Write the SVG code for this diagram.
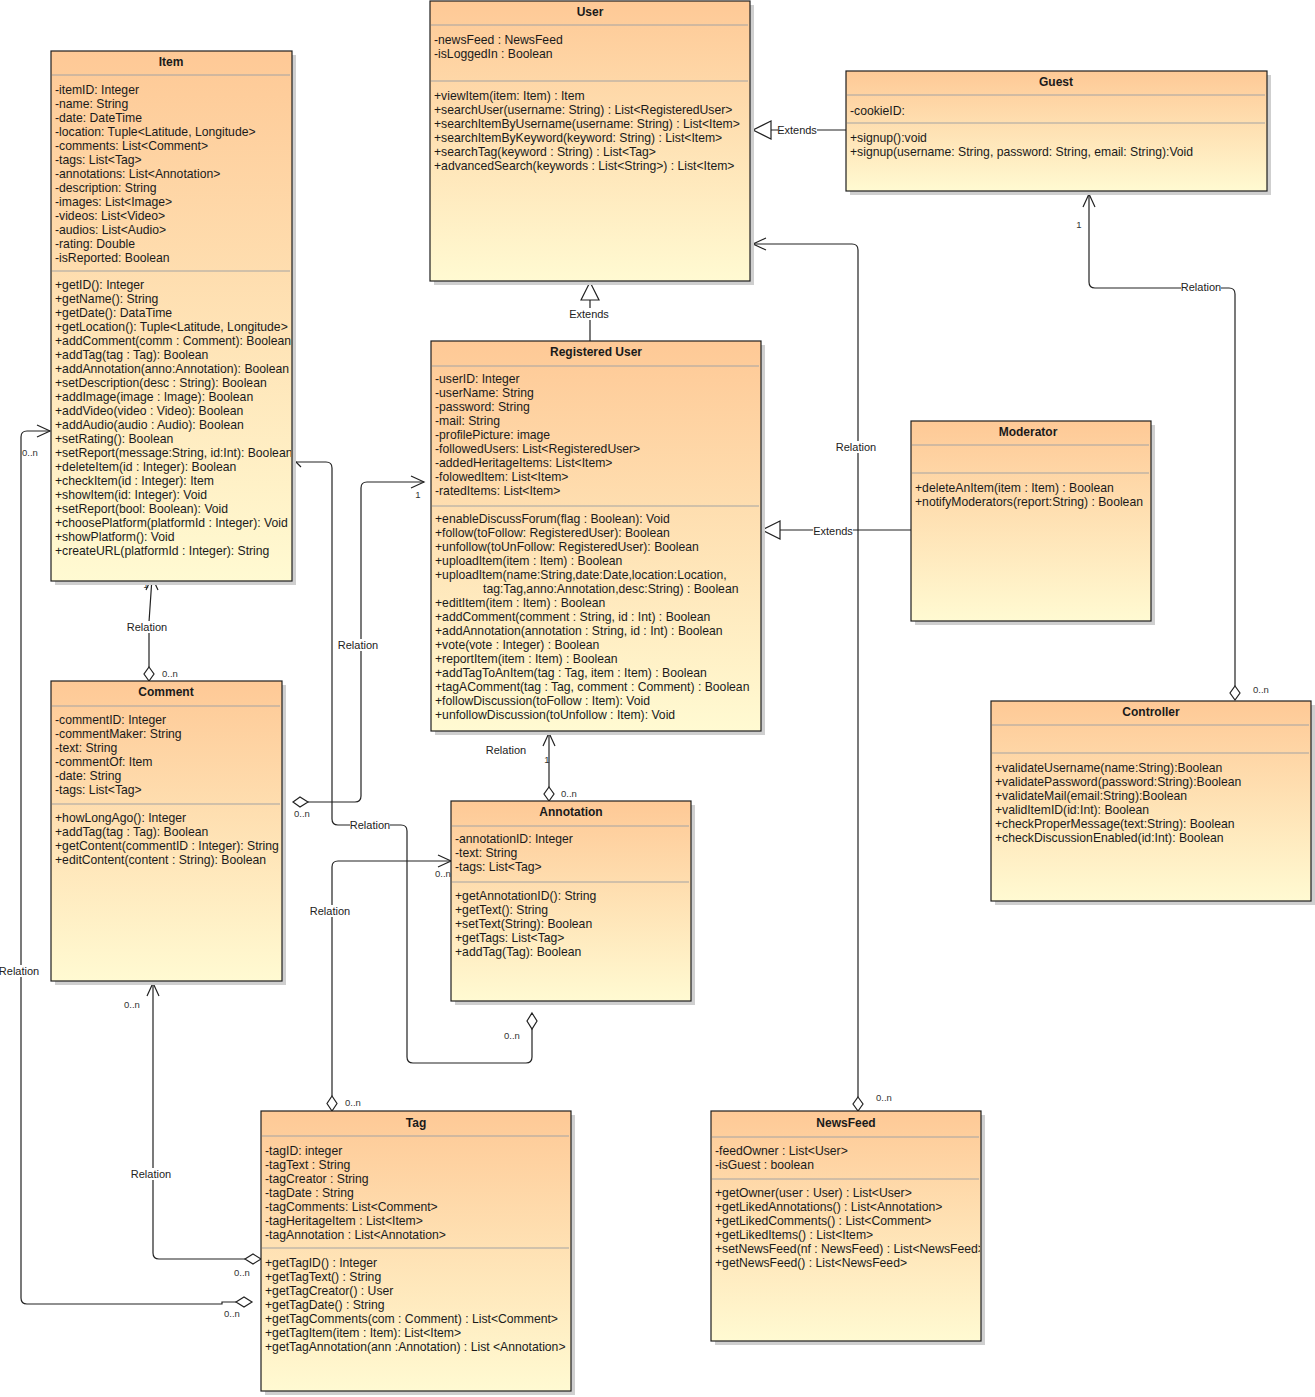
<svg xmlns="http://www.w3.org/2000/svg" width="1315" height="1397" viewBox="0 0 1315 1397">
<defs>
<linearGradient id="g" x1="0" y1="0" x2="0" y2="1">
<stop offset="0" stop-color="#fec996"/>
<stop offset="1" stop-color="#fffad2"/>
</linearGradient>
<clipPath id="cItem"><rect x="51" y="51" width="240" height="530"/></clipPath>
<clipPath id="cNews"><rect x="711" y="1111" width="269" height="230"/></clipPath>
</defs>
<style>
.sh{fill:#cfcfcf}
.bx{fill:url(#g);stroke:#1e1e1e;stroke-width:1.2}
.sp{stroke:#a3a3a3;stroke-width:1.2}
.t{font-family:"Liberation Sans",Arial,sans-serif;font-size:12.2px;fill:#1a1a1a}
.h{font-family:"Liberation Sans",Arial,sans-serif;font-size:12px;font-weight:bold;fill:#1a1a1a;text-anchor:middle}
.ln{fill:none;stroke:#222;stroke-width:1.2}
.hd{fill:#fff;stroke:#222;stroke-width:1.2}
.lb{font-family:"Liberation Sans",Arial,sans-serif;font-size:11px;fill:#222;text-anchor:middle}
.m{font-family:"Liberation Sans",Arial,sans-serif;font-size:9.5px;fill:#333;text-anchor:middle}
.wb{fill:#fff}
</style>
<rect width="1315" height="1397" fill="#fff"/>

<g id="connectors">
<!-- Guest extends User -->
<path class="ln" d="M846,130 H771"/>
<polygon class="hd" points="771,121 753,130 771,139"/>
<rect class="wb" x="778" y="124" width="39" height="12"/>
<text class="lb" x="797" y="134">Extends</text>
<!-- Registered User extends User -->
<path class="ln" d="M590,341 V300"/>
<polygon class="hd" points="581,300 590,282 599,300"/>
<rect class="wb" x="569" y="308" width="40" height="12"/>
<text class="lb" x="589" y="318">Extends</text>
<!-- Moderator extends Registered User -->
<path class="ln" d="M911,530 H780"/>
<polygon class="hd" points="780,521 762,530 780,539"/>
<rect class="wb" x="813" y="525" width="40" height="12"/>
<text class="lb" x="833" y="535">Extends</text>
<!-- Controller - Guest -->
<path class="ln" d="M1235,686 V294 Q1235,288 1229,288 H1095 Q1089,288 1089,282 V194"/>
<polyline class="ln" points="1083,207 1089,194 1095,207"/>
<polygon class="hd" points="1235,686 1240,693 1235,700 1230,693"/>
<rect class="wb" x="1181" y="282" width="40" height="12"/>
<text class="lb" x="1201" y="291">Relation</text>
<text class="m" x="1079" y="228">1</text>
<text class="m" x="1261" y="693">0..n</text>
<!-- NewsFeed - User -->
<path class="ln" d="M858,1097 V250 Q858,244 852,244 H753"/>
<polyline class="ln" points="766,238 753,244 766,250"/>
<polygon class="hd" points="858,1097 863,1104 858,1111 853,1104"/>
<rect class="wb" x="836" y="441" width="40" height="12"/>
<text class="lb" x="856" y="451">Relation</text>
<text class="m" x="884" y="1101">0..n</text>
<rect class="wb" x="728" y="270" width="20" height="11"/>
<text class="m" x="738" y="279">0..n</text>
<!-- Annotation - Registered User -->
<path class="ln" d="M549,787 V733"/>
<polyline class="ln" points="543,746 549,733 555,746"/>
<polygon class="hd" points="549,787 554,794 549,801 544,794"/>
<text class="lb" x="506" y="754">Relation</text>
<text class="m" x="547" y="763">1</text>
<text class="m" x="569" y="797">0..n</text>
<!-- Comment - Item -->
<path class="ln" d="M149,667 V622 L152,578"/>
<polyline class="ln" points="146,590 152,577 158,590"/>
<polygon class="hd" points="149,667 154,674 149,681 144,674"/>
<rect class="wb" x="127" y="621" width="40" height="12"/>
<text class="lb" x="147" y="631">Relation</text>
<text class="m" x="146" y="588">1</text>
<text class="m" x="170" y="677">0..n</text>
<!-- Comment - Registered User -->
<path class="ln" d="M308,802 H355 Q361,802 361,796 V488 Q361,482 367,482 H424"/>
<polyline class="ln" points="411,476 424,482 411,488"/>
<polygon class="hd" points="293,802 300,797 308,802 300,807"/>
<rect class="wb" x="338" y="639" width="40" height="12"/>
<text class="lb" x="358" y="649">Relation</text>
<text class="m" x="418" y="498">1</text>
<text class="m" x="302" y="817">0..n</text>
<!-- Item - (aggregation below Annotation) -->
<path class="ln" d="M295,462 H326 Q332,462 332,468 V819 Q332,825 338,825 H401 Q407,825 407,831 V1057 Q407,1063 413,1063 H526 Q532,1063 532,1057 V1029"/>
<polyline class="ln" points="289,471 292,458 301,467"/>
<polygon class="hd" points="532,1013 537,1021 532,1029 527,1021"/>
<rect class="wb" x="350" y="819" width="40" height="12"/>
<text class="lb" x="370" y="829">Relation</text>
<rect class="wb" x="283" y="463" width="7" height="11"/>
<text class="m" x="287" y="472">1</text>
<text class="m" x="512" y="1039">0..n</text>
<!-- Tag - Annotation -->
<path class="ln" d="M332,1096 V867 Q332,861 338,861 H451"/>
<polyline class="ln" points="438,855 451,861 438,867"/>
<polygon class="hd" points="332,1096 337,1103.5 332,1111 327,1103.5"/>
<rect class="wb" x="310" y="905" width="40" height="12"/>
<text class="lb" x="330" y="915">Relation</text>
<text class="m" x="443" y="877">0..n</text>
<text class="m" x="353" y="1106">0..n</text>
<!-- Tag - Comment -->
<path class="ln" d="M245,1259 H159 Q153,1259 153,1253 V983"/>
<polyline class="ln" points="147,996 153,983 159,996"/>
<polygon class="hd" points="245,1259 253,1254 261,1259 253,1264"/>
<rect class="wb" x="131" y="1168" width="40" height="12"/>
<text class="lb" x="151" y="1178">Relation</text>
<text class="m" x="132" y="1008">0..n</text>
<text class="m" x="242" y="1276">0..n</text>
<!-- Tag - Item -->
<path class="ln" d="M236,1302 H222 V1304 H27 Q21,1304 21,1298 V437 Q21,431 27,431 H50"/>
<polyline class="ln" points="37,425 50,431 37,437"/>
<polygon class="hd" points="236,1302 244,1297 252,1302 244,1307"/>
<rect class="wb" x="0" y="965" width="40" height="12"/>
<text class="lb" x="19" y="975">Relation</text>
<text class="m" x="30" y="456">0..n</text>
<text class="m" x="232" y="1317">0..n</text>
</g>

<g id="item">
<rect class="sh" x="55" y="55" width="241" height="530"/>
<rect class="bx" x="51" y="51" width="241" height="530"/>
<text class="h" x="171" y="66">Item</text>
<line class="sp" x1="52" y1="75" x2="290" y2="75"/>
<line class="sp" x1="52" y1="271" x2="290" y2="271"/>
<g clip-path="url(#cItem)">
<text class="t" x="55" y="94">-itemID: Integer<tspan x="55" dy="14">-name: String</tspan><tspan x="55" dy="14">-date: DateTime</tspan><tspan x="55" dy="14">-location: Tuple&lt;Latitude, Longitude&gt;</tspan><tspan x="55" dy="14">-comments: List&lt;Comment&gt;</tspan><tspan x="55" dy="14">-tags: List&lt;Tag&gt;</tspan><tspan x="55" dy="14">-annotations: List&lt;Annotation&gt;</tspan><tspan x="55" dy="14">-description: String</tspan><tspan x="55" dy="14">-images: List&lt;Image&gt;</tspan><tspan x="55" dy="14">-videos: List&lt;Video&gt;</tspan><tspan x="55" dy="14">-audios: List&lt;Audio&gt;</tspan><tspan x="55" dy="14">-rating: Double</tspan><tspan x="55" dy="14">-isReported: Boolean</tspan></text>
<text class="t" x="55" y="289">+getID(): Integer<tspan x="55" dy="14">+getName(): String</tspan><tspan x="55" dy="14">+getDate(): DataTime</tspan><tspan x="55" dy="14">+getLocation(): Tuple&lt;Latitude, Longitude&gt;</tspan><tspan x="55" dy="14">+addComment(comm : Comment): Boolean</tspan><tspan x="55" dy="14">+addTag(tag : Tag): Boolean</tspan><tspan x="55" dy="14">+addAnnotation(anno:Annotation): Boolean</tspan><tspan x="55" dy="14">+setDescription(desc : String): Boolean</tspan><tspan x="55" dy="14">+addImage(image : Image): Boolean</tspan><tspan x="55" dy="14">+addVideo(video : Video): Boolean</tspan><tspan x="55" dy="14">+addAudio(audio : Audio): Boolean</tspan><tspan x="55" dy="14">+setRating(): Boolean</tspan><tspan x="55" dy="14">+setReport(message:String, id:Int): Boolean</tspan><tspan x="55" dy="14">+deleteItem(id : Integer): Boolean</tspan><tspan x="55" dy="14">+checkItem(id : Integer): Item</tspan><tspan x="55" dy="14">+showItem(id: Integer): Void</tspan><tspan x="55" dy="14">+setReport(bool: Boolean): Void</tspan><tspan x="55" dy="14">+choosePlatform(platformId : Integer): Void</tspan><tspan x="55" dy="14">+showPlatform(): Void</tspan><tspan x="55" dy="14">+createURL(platformId : Integer): String</tspan></text>
</g>
</g>

<g id="user">
<rect class="sh" x="434" y="5" width="320" height="280"/>
<rect class="bx" x="430" y="1" width="320" height="280"/>
<text class="h" x="590" y="16">User</text>
<line class="sp" x1="431" y1="25" x2="748" y2="25"/>
<line class="sp" x1="431" y1="81" x2="748" y2="81"/>
<text class="t" x="434" y="44">-newsFeed : NewsFeed<tspan x="434" dy="14">-isLoggedIn : Boolean</tspan></text>
<text class="t" x="434" y="100">+viewItem(item: Item) : Item<tspan x="434" dy="14">+searchUser(username: String) : List&lt;RegisteredUser&gt;</tspan><tspan x="434" dy="14">+searchItemByUsername(username: String) : List&lt;Item&gt;</tspan><tspan x="434" dy="14">+searchItemByKeyword(keyword: String) : List&lt;Item&gt;</tspan><tspan x="434" dy="14">+searchTag(keyword : String) : List&lt;Tag&gt;</tspan><tspan x="434" dy="14">+advancedSearch(keywords : List&lt;String&gt;) : List&lt;Item&gt;</tspan></text>
</g>

<g id="guest">
<rect class="sh" x="850" y="75" width="421" height="120"/>
<rect class="bx" x="846" y="71" width="421" height="120"/>
<text class="h" x="1056" y="86">Guest</text>
<line class="sp" x1="847" y1="95" x2="1265" y2="95"/>
<line class="sp" x1="847" y1="123" x2="1265" y2="123"/>
<text class="t" x="850" y="115">-cookieID:</text>
<text class="t" x="850" y="142">+signup():void<tspan x="850" dy="14">+signup(username: String, password: String, email: String):Void</tspan></text>
</g>

<g id="registered-user">
<rect class="sh" x="435" y="345" width="330" height="390"/>
<rect class="bx" x="431" y="341" width="330" height="390"/>
<text class="h" x="596" y="356">Registered User</text>
<line class="sp" x1="432" y1="366" x2="759" y2="366"/>
<line class="sp" x1="432" y1="506" x2="759" y2="506"/>
<text class="t" x="435" y="383">-userID: Integer<tspan x="435" dy="14">-userName: String</tspan><tspan x="435" dy="14">-password: String</tspan><tspan x="435" dy="14">-mail: String</tspan><tspan x="435" dy="14">-profilePicture: image</tspan><tspan x="435" dy="14">-followedUsers: List&lt;RegisteredUser&gt;</tspan><tspan x="435" dy="14">-addedHeritageItems: List&lt;Item&gt;</tspan><tspan x="435" dy="14">-folowedItem: List&lt;Item&gt;</tspan><tspan x="435" dy="14">-ratedItems: List&lt;Item&gt;</tspan></text>
<text class="t" x="435" y="523">+enableDiscussForum(flag : Boolean): Void<tspan x="435" dy="14">+follow(toFollow: RegisteredUser): Boolean</tspan><tspan x="435" dy="14">+unfollow(toUnFollow: RegisteredUser): Boolean</tspan><tspan x="435" dy="14">+uploadItem(item : Item) : Boolean</tspan><tspan x="435" dy="14">+uploadItem(name:String,date:Date,location:Location,</tspan><tspan x="483" dy="14">tag:Tag,anno:Annotation,desc:String) : Boolean</tspan><tspan x="435" dy="14">+editItem(item : Item) : Boolean</tspan><tspan x="435" dy="14">+addComment(comment : String, id : Int) : Boolean</tspan><tspan x="435" dy="14">+addAnnotation(annotation : String, id : Int) : Boolean</tspan><tspan x="435" dy="14">+vote(vote : Integer) : Boolean</tspan><tspan x="435" dy="14">+reportItem(item : Item) : Boolean</tspan><tspan x="435" dy="14">+addTagToAnItem(tag : Tag, item : Item) : Boolean</tspan><tspan x="435" dy="14">+tagAComment(tag : Tag, comment : Comment) : Boolean</tspan><tspan x="435" dy="14">+followDiscussion(toFollow : Item): Void</tspan><tspan x="435" dy="14">+unfollowDiscussion(toUnfollow : Item): Void</tspan></text>
</g>

<g id="moderator">
<rect class="sh" x="915" y="425" width="240" height="200"/>
<rect class="bx" x="911" y="421" width="240" height="200"/>
<text class="h" x="1028" y="436">Moderator</text>
<line class="sp" x1="912" y1="445" x2="1149" y2="445"/>
<line class="sp" x1="912" y1="473" x2="1149" y2="473"/>
<text class="t" x="915" y="492">+deleteAnItem(item : Item) : Boolean<tspan x="915" dy="14">+notifyModerators(report:String) : Boolean</tspan></text>
</g>

<g id="controller">
<rect class="sh" x="995" y="705" width="320" height="200"/>
<rect class="bx" x="991" y="701" width="320" height="200"/>
<text class="h" x="1151" y="716">Controller</text>
<line class="sp" x1="992" y1="725" x2="1309" y2="725"/>
<line class="sp" x1="992" y1="753" x2="1309" y2="753"/>
<text class="t" x="995" y="772">+validateUsername(name:String):Boolean<tspan x="995" dy="14">+validatePassword(password:String):Boolean</tspan><tspan x="995" dy="14">+validateMail(email:String):Boolean</tspan><tspan x="995" dy="14">+validItemID(id:Int): Boolean</tspan><tspan x="995" dy="14">+checkProperMessage(text:String): Boolean</tspan><tspan x="995" dy="14">+checkDiscussionEnabled(id:Int): Boolean</tspan></text>
</g>

<g id="comment">
<rect class="sh" x="55" y="685" width="231" height="300"/>
<rect class="bx" x="51" y="681" width="231" height="300"/>
<text class="h" x="166" y="696">Comment</text>
<line class="sp" x1="52" y1="706" x2="280" y2="706"/>
<line class="sp" x1="52" y1="804" x2="280" y2="804"/>
<text class="t" x="55" y="724">-commentID: Integer<tspan x="55" dy="14">-commentMaker: String</tspan><tspan x="55" dy="14">-text: String</tspan><tspan x="55" dy="14">-commentOf: Item</tspan><tspan x="55" dy="14">-date: String</tspan><tspan x="55" dy="14">-tags: List&lt;Tag&gt;</tspan></text>
<text class="t" x="55" y="822">+howLongAgo(): Integer<tspan x="55" dy="14">+addTag(tag : Tag): Boolean</tspan><tspan x="55" dy="14">+getContent(commentID : Integer): String</tspan><tspan x="55" dy="14">+editContent(content : String): Boolean</tspan></text>
</g>

<g id="annotation">
<rect class="sh" x="455" y="805" width="240" height="200"/>
<rect class="bx" x="451" y="801" width="240" height="200"/>
<text class="h" x="571" y="816">Annotation</text>
<line class="sp" x1="452" y1="826" x2="689" y2="826"/>
<line class="sp" x1="452" y1="882" x2="689" y2="882"/>
<text class="t" x="455" y="843">-annotationID: Integer<tspan x="455" dy="14">-text: String</tspan><tspan x="455" dy="14">-tags: List&lt;Tag&gt;</tspan></text>
<text class="t" x="455" y="900">+getAnnotationID(): String<tspan x="455" dy="14">+getText(): String</tspan><tspan x="455" dy="14">+setText(String): Boolean</tspan><tspan x="455" dy="14">+getTags: List&lt;Tag&gt;</tspan><tspan x="455" dy="14">+addTag(Tag): Boolean</tspan></text>
</g>

<g id="tag">
<rect class="sh" x="265" y="1115" width="310" height="280"/>
<rect class="bx" x="261" y="1111" width="310" height="280"/>
<text class="h" x="416" y="1127">Tag</text>
<line class="sp" x1="262" y1="1136" x2="569" y2="1136"/>
<line class="sp" x1="262" y1="1248" x2="569" y2="1248"/>
<text class="t" x="265" y="1155">-tagID: integer<tspan x="265" dy="14">-tagText : String</tspan><tspan x="265" dy="14">-tagCreator : String</tspan><tspan x="265" dy="14">-tagDate : String</tspan><tspan x="265" dy="14">-tagComments: List&lt;Comment&gt;</tspan><tspan x="265" dy="14">-tagHeritageItem : List&lt;Item&gt;</tspan><tspan x="265" dy="14">-tagAnnotation : List&lt;Annotation&gt;</tspan></text>
<text class="t" x="265" y="1267">+getTagID() : Integer<tspan x="265" dy="14">+getTagText() : String</tspan><tspan x="265" dy="14">+getTagCreator() : User</tspan><tspan x="265" dy="14">+getTagDate() : String</tspan><tspan x="265" dy="14">+getTagComments(com : Comment) : List&lt;Comment&gt;</tspan><tspan x="265" dy="14">+getTagItem(item : Item): List&lt;Item&gt;</tspan><tspan x="265" dy="14">+getTagAnnotation(ann :Annotation) : List &lt;Annotation&gt;</tspan></text>
</g>

<g id="newsfeed">
<rect class="sh" x="715" y="1115" width="270" height="230"/>
<rect class="bx" x="711" y="1111" width="270" height="230"/>
<text class="h" x="846" y="1127">NewsFeed</text>
<line class="sp" x1="712" y1="1137" x2="979" y2="1137"/>
<line class="sp" x1="712" y1="1179" x2="979" y2="1179"/>
<g clip-path="url(#cNews)">
<text class="t" x="715" y="1155">-feedOwner : List&lt;User&gt;<tspan x="715" dy="14">-isGuest : boolean</tspan></text>
<text class="t" x="715" y="1197">+getOwner(user : User) : List&lt;User&gt;<tspan x="715" dy="14">+getLikedAnnotations() : List&lt;Annotation&gt;</tspan><tspan x="715" dy="14">+getLikedComments() : List&lt;Comment&gt;</tspan><tspan x="715" dy="14">+getLikedItems() : List&lt;Item&gt;</tspan><tspan x="715" dy="14">+setNewsFeed(nf : NewsFeed) : List&lt;NewsFeed&gt;</tspan><tspan x="715" dy="14">+getNewsFeed() :  List&lt;NewsFeed&gt;</tspan></text>
</g>
</g>
</svg>
